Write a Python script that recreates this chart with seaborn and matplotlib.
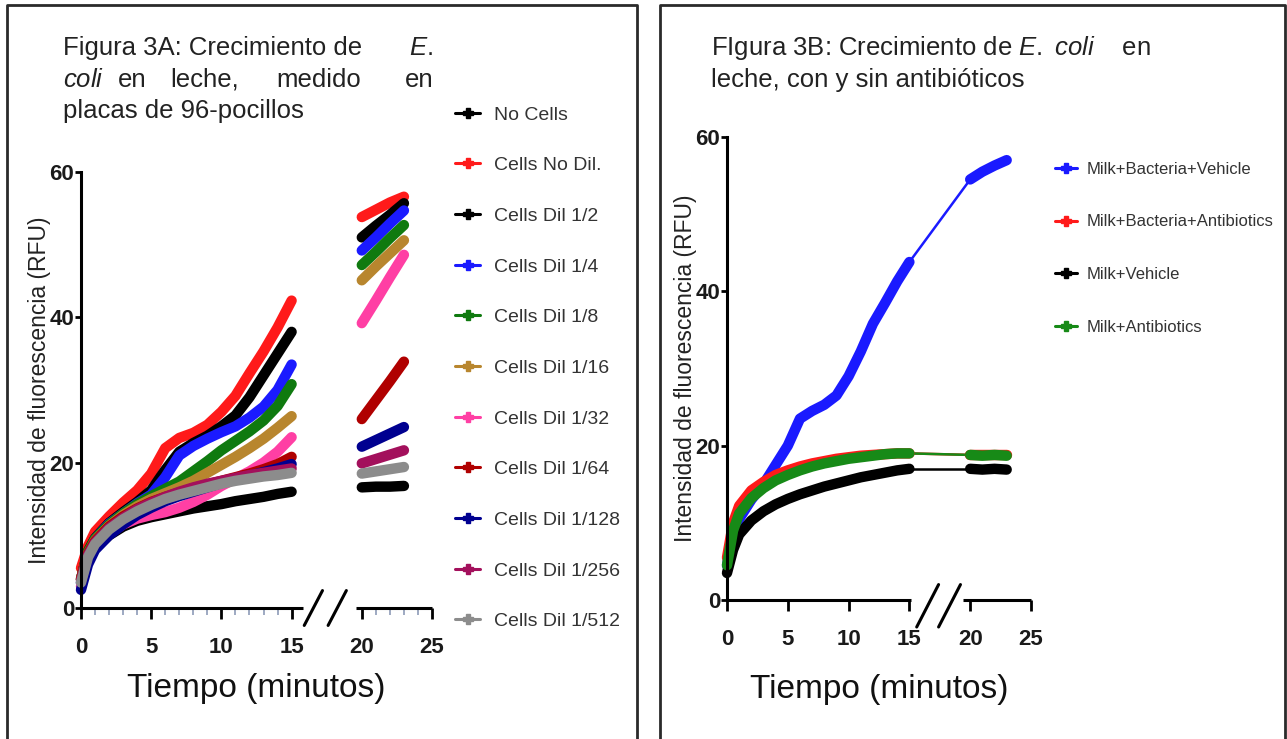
import numpy as np
import pandas as pd
import matplotlib
matplotlib.use('Agg')
import matplotlib.pyplot as plt
from matplotlib.lines import Line2D
from matplotlib.font_manager import FontProperties
from matplotlib.ticker import FixedLocator
import seaborn as sns

# ------------------------------------------------------------
# Datos (RFU vs minutos)
# ------------------------------------------------------------
T1 = [0, 0.5, 1, 2, 3, 4, 5, 6, 7, 8, 9, 10, 11, 12, 13, 14, 15]
T2 = [20, 21, 22, 23]

# Figura 3A
names_a = ['No Cells', 'Cells No Dil.', 'Cells Dil 1/2', 'Cells Dil 1/4', 'Cells Dil 1/8',
           'Cells Dil 1/16', 'Cells Dil 1/32', 'Cells Dil 1/64', 'Cells Dil 1/128',
           'Cells Dil 1/256', 'Cells Dil 1/512']
colors_a = ['#000000', '#ff1a1a', '#000000', '#1a1aff', '#0f7a0f', '#b8862e',
            '#ff3fa4', '#b00000', '#000090', '#a3105c', '#8c8c8c']

no_cells_1 = [3.5, 6.5, 8.2, 10.0, 11.2, 12.0, 12.5, 12.9, 13.3, 13.7, 14.0, 14.3, 14.7, 15.0, 15.3, 15.7, 16.0]
no_cells_2 = [16.6, 16.7, 16.7, 16.8]
no_dil_1 = [5.5, 8.5, 10.5, 12.6, 14.5, 16.2, 18.5, 22.0, 23.4, 24.1, 25.2, 27.0, 29.2, 32.3, 35.3, 38.6, 42.3]
no_dil_2 = [53.8, 54.8, 55.8, 56.6]
dil2_1 = [4.0, 7.8, 9.6, 11.7, 13.2, 14.6, 16.2, 19.0, 21.5, 22.7, 23.7, 25.0, 26.5, 29.0, 32.0, 35.0, 38.0]
dil2_2 = [51.0, 52.6, 54.1, 55.7]
dil4_1 = [3.5, 7.5, 9.5, 11.6, 13.0, 14.4, 15.6, 18.0, 21.0, 22.3, 23.3, 24.2, 25.0, 26.2, 27.7, 30.0, 33.5]
dil4_2 = [49.2, 51.0, 52.9, 54.7]
dil8_1 = [4.0, 7.8, 9.5, 11.5, 13.0, 14.3, 15.4, 16.4, 17.4, 18.8, 20.2, 21.7, 23.0, 24.3, 25.8, 27.8, 30.8]
dil8_2 = [47.2, 49.0, 50.9, 52.7]
dil16_1 = [4.0, 7.5, 9.3, 11.3, 12.8, 14.0, 15.0, 15.8, 16.6, 17.5, 18.6, 19.7, 20.8, 22.0, 23.3, 24.8, 26.4]
dil16_2 = [45.1, 47.0, 48.8, 50.6]
dil32_1 = [3.0, 6.5, 8.3, 10.2, 11.5, 12.3, 12.8, 13.2, 13.8, 14.6, 15.6, 16.8, 17.8, 18.8, 20.0, 21.5, 23.5]
dil32_2 = [39.2, 42.3, 45.5, 48.6]
dil64_1 = [4.0, 7.5, 9.2, 11.2, 12.6, 13.7, 14.6, 15.3, 15.9, 16.5, 17.0, 17.5, 18.0, 18.5, 19.1, 19.8, 20.8]
dil64_2 = [26.0, 28.6, 31.2, 33.9]
dil128_1 = [2.5, 6.0, 8.0, 10.0, 11.5, 12.8, 13.8, 14.7, 15.4, 16.0, 16.6, 17.2, 17.7, 18.2, 18.7, 19.2, 19.8]
dil128_2 = [22.2, 23.1, 24.0, 24.9]
dil256_1 = [3.8, 7.3, 9.0, 11.0, 12.4, 13.6, 14.5, 15.3, 16.0, 16.6, 17.1, 17.5, 17.9, 18.3, 18.6, 18.9, 19.2]
dil256_2 = [19.9, 20.5, 21.1, 21.7]
dil512_1 = [3.5, 7.0, 8.8, 10.8, 12.2, 13.3, 14.2, 15.0, 15.6, 16.1, 16.6, 17.1, 17.5, 17.8, 18.1, 18.3, 18.6]
dil512_2 = [18.5, 18.8, 19.1, 19.4]

# Figura 3B
names_b = ['Milk+Bacteria+Vehicle', 'Milk+Bacteria+Antibiotics', 'Milk+Vehicle', 'Milk+Antibiotics']
colors_b = ['#1a1aff', '#ff1a1a', '#000000', '#178a17']

bact_veh_1 = [4.5, 8.5, 10.5, 13.0, 15.0, 17.5, 20.0, 23.5, 24.5, 25.3, 26.5, 29.0, 32.2, 35.8, 38.5, 41.3, 43.8]
bact_veh_2 = [54.5, 55.5, 56.3, 57.0]
bact_ab_1 = [5.5, 10.0, 12.2, 14.2, 15.3, 16.2, 16.8, 17.3, 17.7, 18.0, 18.3, 18.5, 18.7, 18.8, 18.9, 19.0, 19.0]
bact_ab_2 = [18.8, 18.8, 18.8, 18.8]
milk_veh_1 = [3.5, 6.5, 8.5, 10.3, 11.5, 12.4, 13.1, 13.7, 14.2, 14.7, 15.1, 15.5, 15.9, 16.2, 16.5, 16.8, 17.0]
milk_veh_2 = [17.0, 16.9, 17.0, 16.9]
milk_ab_1 = [4.5, 9.0, 11.2, 13.2, 14.5, 15.5, 16.2, 16.8, 17.3, 17.7, 18.0, 18.3, 18.5, 18.7, 18.9, 19.0, 19.0]
milk_ab_2 = [18.8, 18.7, 18.8, 18.7]

seg1_a = [no_cells_1, no_dil_1, dil2_1, dil4_1, dil8_1, dil16_1, dil32_1, dil64_1, dil128_1, dil256_1, dil512_1]
seg2_a = [no_cells_2, no_dil_2, dil2_2, dil4_2, dil8_2, dil16_2, dil32_2, dil64_2, dil128_2, dil256_2, dil512_2]
seg1_b = [bact_veh_1, bact_ab_1, milk_veh_1, milk_ab_1]
seg2_b = [bact_veh_2, bact_ab_2, milk_veh_2, milk_ab_2]

# ------------------------------------------------------------
# Estilo
# ------------------------------------------------------------
sns.set_theme(style='ticks')
plt.rcParams['font.family'] = ['Liberation Sans', 'DejaVu Sans']
plt.rcParams['mathtext.fontset'] = 'custom'
plt.rcParams['mathtext.rm'] = 'Liberation Sans'
plt.rcParams['mathtext.it'] = 'Liberation Sans:italic'

W, H = 1287, 739


def fx(px):
    return px / W


def fy(py):
    return 1 - py / H


def long_frame(names, s1, s2):
    rows = []
    for name, v1, v2 in zip(names, s1, s2):
        rows += [(name, 'a', t, v) for t, v in zip(T1, v1)]
        rows += [(name, 'b', t, v) for t, v in zip(T2, v2)]
    return pd.DataFrame(rows, columns=['serie', 'seg', 't', 'v'])


def gap_frame(names, s1, s2):
    rows = []
    for name, v1, v2 in zip(names, s1, s2):
        rows += [(name, T1[-1], v1[-1]), (name, T2[0], v2[0])]
    return pd.DataFrame(rows, columns=['serie', 't', 'v'])


def style_axis(ax, seg1_end, seg2_start, breaks, minor, xlabelpad):
    ax.set_xlim(0, 25)
    ax.set_ylim(0, 60)
    for s in ['top', 'right', 'bottom']:
        ax.spines[s].set_visible(False)
    ax.spines['left'].set_linewidth(2.2)
    ax.spines['left'].set_color('black')
    ax.set_xticks([0, 5, 10, 15, 20, 25])
    ax.set_yticks([0, 20, 40, 60])
    ax.tick_params(axis='x', which='major', length=8, width=2, color='black', pad=13)
    ax.tick_params(axis='y', which='major', length=4, width=2, color='black', pad=1)
    if minor:
        ax.xaxis.set_minor_locator(FixedLocator(minor))
        ax.tick_params(axis='x', which='minor', length=5, width=1.2, color='#8e9bb8')
    for lab in ax.get_xticklabels() + ax.get_yticklabels():
        lab.set_fontweight('bold')
        lab.set_fontsize(16)
        lab.set_color('#1a1a1a')
    # eje X partido
    ax.plot([0, seg1_end], [0, 0], color='black', lw=2.2, clip_on=False, solid_capstyle='butt')
    ax.plot([seg2_start, 25], [0, 0], color='black', lw=2.2, clip_on=False, solid_capstyle='butt')
    for (xa, ya, xb, yb) in breaks:
        ax.plot([xa, xb], [ya, yb], color='black', lw=2.2, clip_on=False)
    ax.set_xlabel('Tiempo (minutos)', fontsize=24, labelpad=xlabelpad, color='#111111')
    ax.set_ylabel('Intensidad de fluorescencia (RFU)', fontsize=16.5, color='#222222')


fig = plt.figure(figsize=(W / 100, H / 100), dpi=100)
fig.patch.set_facecolor('white')

# ---------------- Figura 3A ----------------
ax_a = fig.add_axes([fx(81), fy(608), fx(432) - fx(81), fy(172) - fy(608)])
df_a = long_frame(names_a, seg1_a, seg2_a)
sns.lineplot(data=df_a, x='t', y='v', hue='serie', hue_order=names_a, units='seg',
             estimator=None, palette=dict(zip(names_a, colors_a)), lw=7.5, sort=False,
             legend=False, ax=ax_a)
for ln in ax_a.lines:
    ln.set_clip_on(False)
minor_a = [t for t in list(range(1, 15)) + list(range(21, 25)) if t % 5]
style_axis(ax_a, 15.8, 19.6,
           [(15.9, -2.4, 17.2, 2.4), (17.6, -2.4, 18.9, 2.4)], minor_a, 11)
ax_a.yaxis.set_label_coords(-0.085, 0.5)

handles_a = [Line2D([], [], color=c, lw=2.2, marker='P', ms=7) for c in colors_a]
fig.legend(handles_a, names_a, loc='upper left', bbox_to_anchor=(fx(455), fy(106)),
           frameon=False, borderaxespad=0, borderpad=0, handlelength=1.3,
           handletextpad=0.7, labelspacing=1.7,
           prop=FontProperties(size=14), labelcolor='#333333')

title_kw = dict(fontsize=18.5, color='#222222', va='center')
fig.text(fx(63), fy(48), 'Figura 3A: Crecimiento de', ha='left', **title_kw)
fig.text(fx(433), fy(48), r'$\it{E.}$', ha='right', **title_kw)
fig.text(fx(63), fy(80), r'$\it{coli}$', ha='left', **title_kw)
fig.text(fx(118), fy(80), 'en', ha='left', **title_kw)
fig.text(fx(170), fy(80), 'leche,', ha='left', **title_kw)
fig.text(fx(276), fy(80), 'medido', ha='left', **title_kw)
fig.text(fx(433), fy(80), 'en', ha='right', **title_kw)
fig.text(fx(63), fy(111), 'placas de 96-pocillos', ha='left', **title_kw)

# ---------------- Figura 3B ----------------
ax_b = fig.add_axes([fx(727), fy(600), fx(1031) - fx(727), fy(137) - fy(600)])
pal_b = dict(zip(names_b, colors_b))
sns.lineplot(data=gap_frame(names_b, seg1_b, seg2_b), x='t', y='v', hue='serie',
             hue_order=names_b, palette=pal_b, lw=1.8, legend=False, ax=ax_b)
sns.lineplot(data=long_frame(names_b, seg1_b, seg2_b), x='t', y='v', hue='serie',
             hue_order=names_b, units='seg', estimator=None, palette=pal_b, lw=7.5,
             sort=False, legend=False, ax=ax_b)
for ln in ax_b.lines:
    ln.set_clip_on(False)
style_axis(ax_b, 15.1, 19.4,
           [(15.6, -3.5, 17.4, 2.0), (17.4, -3.5, 19.2, 2.0)], None, 17)
ax_b.yaxis.set_label_coords(-0.1, 0.5)

handles_b = [Line2D([], [], color=c, lw=2.2, marker='P', ms=7) for c in colors_b]
fig.legend(handles_b, names_b, loc='upper left', bbox_to_anchor=(fx(1055), fy(162)),
           frameon=False, borderaxespad=0, borderpad=0, handlelength=1.3,
           handletextpad=0.6, labelspacing=2.25,
           prop=FontProperties(size=12), labelcolor='#333333')

fig.text(fx(711), fy(48), r'FIgura 3B: Crecimiento de $\it{E.\ coli}$    en', ha='left', **title_kw)
fig.text(fx(711), fy(80), 'leche, con y sin antibióticos', ha='left', **title_kw)

# marcos de los paneles
for x0, x1 in [(7, 637), (660, 1285)]:
    fig.add_artist(Line2D([fx(x0), fx(x0), fx(x1), fx(x1)], [fy(745), fy(5), fy(5), fy(745)],
                          transform=fig.transFigure, color='#2a2a2a', lw=2))

fig.savefig('out.png', dpi=100, facecolor='white')
